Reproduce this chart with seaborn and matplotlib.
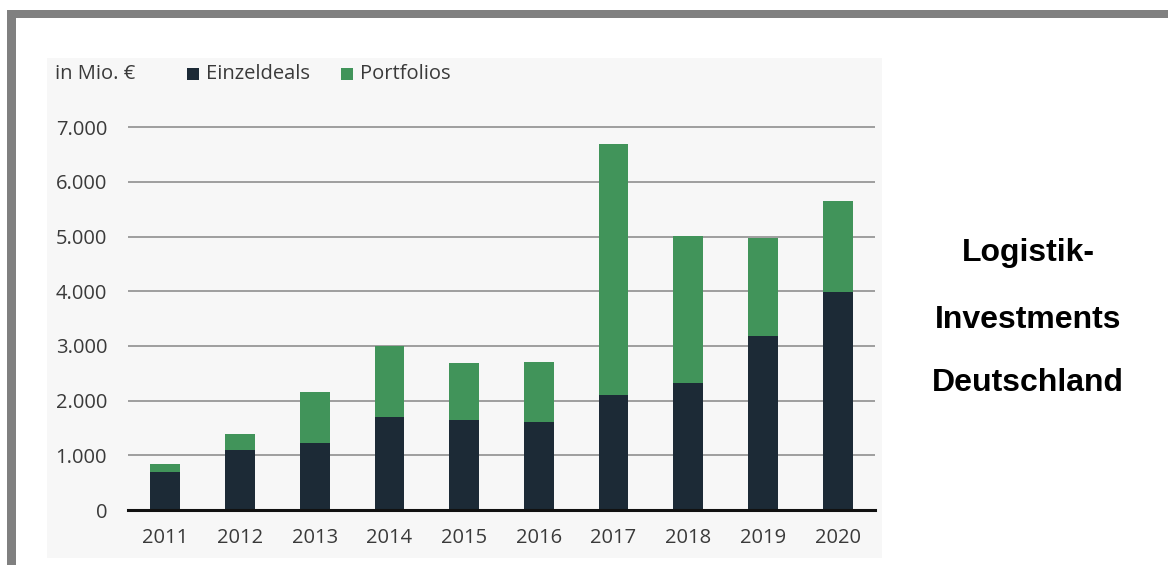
import matplotlib
matplotlib.use("Agg")
import matplotlib.pyplot as plt
import seaborn as sns
import pandas as pd
from matplotlib.patches import Rectangle

years = ["2011", "2012", "2013", "2014", "2015", "2016", "2017", "2018", "2019", "2020"]
einzeldeals = [700, 1100, 1230, 1700, 1650, 1600, 2100, 2330, 3190, 3990]
gesamt = [850, 1385, 2160, 3000, 2685, 2710, 6690, 5015, 4970, 5650]
yticks = [0, 1000, 2000, 3000, 4000, 5000, 6000, 7000]
ytick_labels = ["0", "1.000", "2.000", "3.000", "4.000", "5.000", "6.000", "7.000"]

df = pd.DataFrame({"Jahr": years, "Einzeldeals": einzeldeals, "Gesamt": gesamt})

sns.set_theme(style="white")
plt.rcParams["font.family"] = ["Open Sans", "DejaVu Sans"]

DARK = "#1c2a36"
GREEN = "#41945a"
TXT = "#3a3a3a"
FS = 14.5

W, H = 1168, 565
fig = plt.figure(figsize=(W / 100, H / 100), dpi=100)
fig.patch.set_facecolor("white")

def px(x0, y0, x1, y1):
    return (x0 / W, 1 - y1 / H, (x1 - x0) / W, (y1 - y0) / H)

# gray frame
for (x0, y0, x1, y1) in [(7, 10, 1168, 18), (7, 10, 16, 565)]:
    l, b, w, h = px(x0, y0, x1, y1)
    fig.patches.append(Rectangle((l, b), w, h, transform=fig.transFigure,
                                 facecolor="#808080", edgecolor="none", zorder=-2))
# chart panel
l, b, w, h = px(47, 58, 882, 558)
fig.patches.append(Rectangle((l, b), w, h, transform=fig.transFigure,
                             facecolor="#f7f7f7", edgecolor="none", zorder=-2))

ymax = 7300
ppu = 54.7 / 1000
top_px = 510 - ymax * ppu
ax = fig.add_axes(px(128, top_px, 875, 510))
ax.set_facecolor("none")
ax.set_zorder(3)

sns.barplot(data=df, x="Jahr", y="Gesamt", color=GREEN, width=0.4,
            saturation=1, ax=ax, zorder=3, linewidth=0, edgecolor="none")
sns.barplot(data=df, x="Jahr", y="Einzeldeals", color=DARK, width=0.4,
            saturation=1, ax=ax, zorder=4, linewidth=0, edgecolor="none")

ax.set_ylim(0, ymax)
ax.set_xlim(-0.5, len(years) - 0.5)
ax.set_yticks(yticks)
ax.set_yticklabels(ytick_labels)
for y in yticks[1:]:
    ax.axhline(y, color="#8f8f8f", lw=1.2, zorder=1)
for s in ["top", "right", "left"]:
    ax.spines[s].set_visible(False)
ax.spines["bottom"].set_color("#111111")
ax.spines["bottom"].set_linewidth(2.2)
ax.spines["bottom"].set_zorder(5)
ax.tick_params(axis="y", length=0, pad=15, labelsize=FS, labelcolor=TXT)
ax.tick_params(axis="x", length=0, pad=13, labelsize=FS, labelcolor=TXT)
ax.set_xlabel("")
ax.set_ylabel("")

def fx(x):
    return x / W
def fy(y):
    return 1 - y / H

fig.text(fx(55), fy(74), "in Mio. €", fontsize=FS, color=TXT, va="center", ha="left")
for xs, col, lab in [(187, DARK, "Einzeldeals"), (341, GREEN, "Portfolios")]:
    l, b, w, h = px(xs, 68, xs + 12, 80)
    fig.patches.append(Rectangle((l, b), w, h, transform=fig.transFigure,
                                 facecolor=col, edgecolor="none", zorder=2))
    fig.text(fx(xs + 19), fy(74), lab, fontsize=FS, color=TXT, va="center", ha="left")

for yy, t in [(253, "Logistik-"), (320, "Investments"), (383, "Deutschland")]:
    fig.text(fx(1028), fy(yy), t, fontsize=23, fontweight="bold", color="black",
             ha="center", va="center", family=["Liberation Sans", "DejaVu Sans"])

fig.savefig("out.png", dpi=100)
